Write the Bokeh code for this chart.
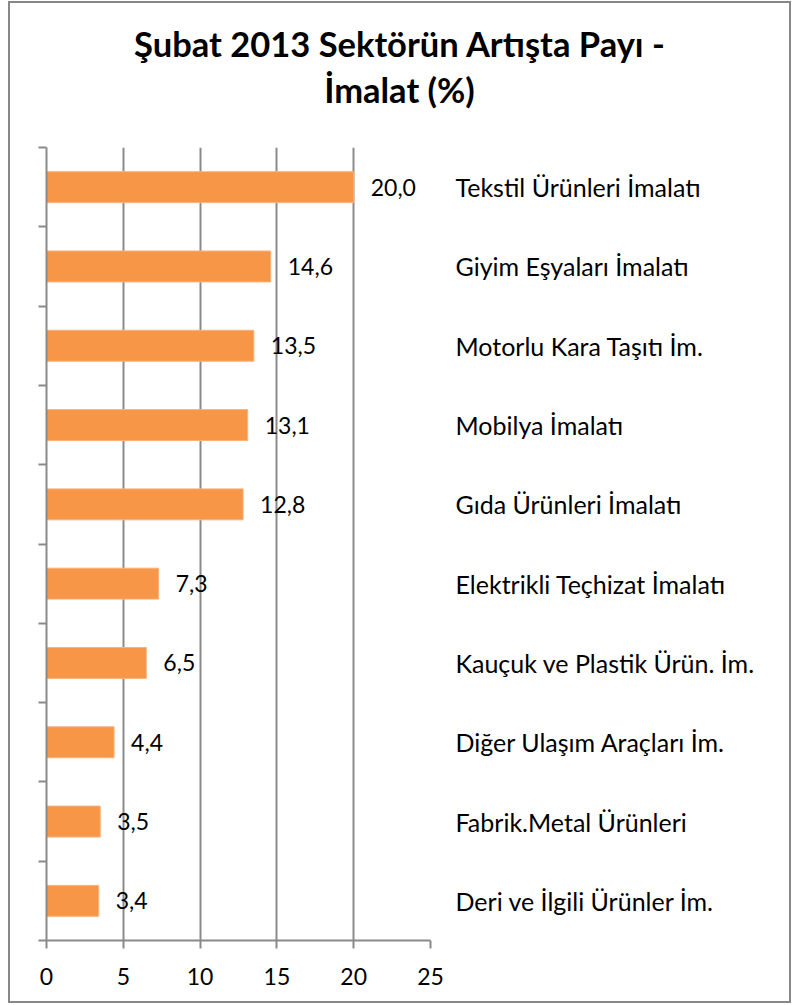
from bokeh.plotting import figure
from bokeh.models import Range1d, LinearAxis, FixedTicker, ColumnDataSource, Div
from bokeh.layouts import column
from bokeh.core.properties import value
from bokeh.embed import file_html
from bokeh.resources import INLINE

title_lines = ["Şubat 2013 Sektörün Artışta Payı -", "İmalat (%)"]
categories = [
    "Tekstil Ürünleri İmalatı",
    "Giyim Eşyaları İmalatı",
    "Motorlu Kara Taşıtı İm.",
    "Mobilya İmalatı",
    "Gıda Ürünleri İmalatı",
    "Elektrikli Teçhizat İmalatı",
    "Kauçuk ve Plastik Ürün. İm.",
    "Diğer Ulaşım Araçları İm.",
    "Fabrik.Metal Ürünleri",
    "Deri ve İlgili Ürünler İm.",
]
values = [20.0, 14.6, 13.5, 13.1, 12.8, 7.3, 6.5, 4.4, 3.5, 3.4]
x_ticks = [0, 5, 10, 15, 20, 25]

FONT = "Lato"
GRAY = "#8a8a8a"

W = 779
H_DIV = 120
H = 998 - H_DIV
ML, MR, MT, MB = 36, 359, 144 - H_DIV, 61

n = len(categories)
centers = [i + 0.5 for i in range(n)]
labels = [f"{v:.1f}".replace(".", ",") for v in values]
src = ColumnDataSource(dict(y=centers, v=values, lab=labels))

title_html = (
    '<div style="width:%dpx; padding-top:18px; text-align:center; font-family:Lato; '
    'font-weight:bold; font-size:34.5px; line-height:46px; color:black; margin:0;">%s</div>'
    % (W, "<br>".join(title_lines))
)
title_div = Div(text=title_html, width=W, height=H_DIV, margin=0)

p = figure(
    width=W, height=H,
    x_range=Range1d(0, 25), y_range=Range1d(n, 0),
    output_backend="svg", toolbar_location=None,
    min_border_left=ML, min_border_right=MR, min_border_top=MT, min_border_bottom=MB,
)
p.title = None
p.margin = 0
p.outline_line_color = None
p.background_fill_color = "white"
p.border_fill_color = "white"

p.hbar(y="y", right="v", left=0, height=0.39, source=src,
       fill_color="#F79646", line_color="#F9B27C", line_width=1)
p.text(x="v", y="y", text="lab", source=src, x_offset=17,
       text_align="left", text_baseline="middle",
       text_font=value(FONT), text_font_size="23px", text_color="black")

# x axis
xa = p.xaxis[0]
xa.ticker = FixedTicker(ticks=x_ticks)
xa.axis_line_color = GRAY
xa.axis_line_width = 2
xa.major_tick_line_color = GRAY
xa.major_tick_line_width = 2
xa.major_tick_out = 8
xa.major_tick_in = 0
xa.minor_tick_line_color = None
xa.major_label_text_font = FONT
xa.major_label_text_font_size = "23px"
xa.major_label_text_color = "black"
xa.major_label_standoff = 19

# left axis: ticks at category boundaries, no labels
ya = p.yaxis[0]
ya.ticker = FixedTicker(ticks=list(range(n + 1)))
ya.major_label_overrides = {i: " " for i in range(n + 1)}
ya.axis_line_color = GRAY
ya.axis_line_width = 2
ya.major_tick_line_color = GRAY
ya.major_tick_line_width = 2
ya.major_tick_out = 8
ya.major_tick_in = 0
ya.minor_tick_line_color = None
ya.major_label_text_font_size = "10px"

# right axis: category names
ra = LinearAxis(ticker=FixedTicker(ticks=centers),
                major_label_overrides={c: name for c, name in zip(centers, categories)})
ra.axis_line_color = None
ra.major_tick_line_color = None
ra.minor_tick_line_color = None
ra.major_tick_out = 0
ra.major_tick_in = 0
ra.major_label_standoff = 25
ra.major_label_text_font = FONT
ra.major_label_text_font_size = "25px"
ra.major_label_text_color = "black"
p.add_layout(ra, "right")

p.xgrid.ticker = FixedTicker(ticks=x_ticks)
p.xgrid.grid_line_color = GRAY
p.xgrid.grid_line_width = 2
p.ygrid.grid_line_color = None

layout = column(title_div, p, spacing=0)
layout.styles = {"border": "2px solid #888888", "margin-left": "8px", "margin-top": "1px",
                 "background-color": "white"}

open("out.html", "w").write(file_html(layout, INLINE))
